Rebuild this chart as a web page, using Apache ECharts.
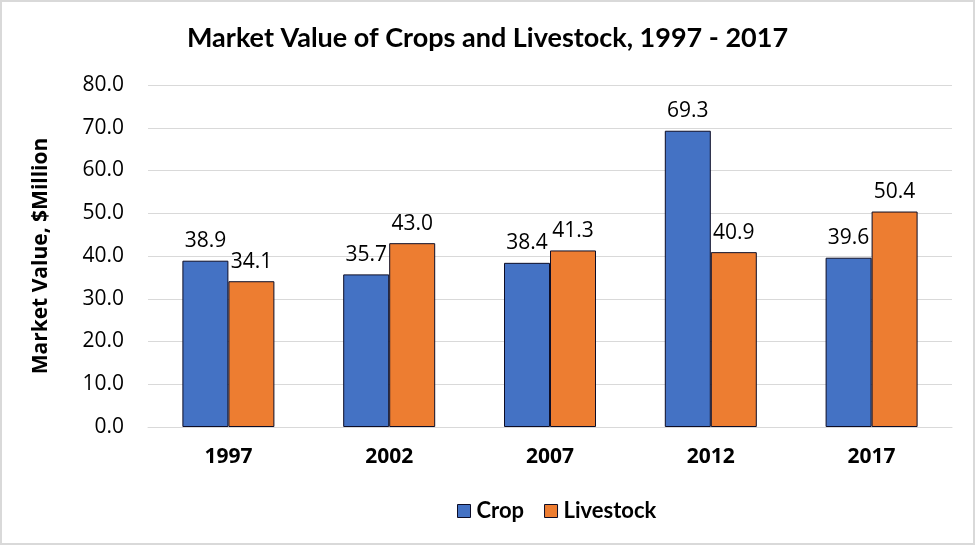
<!DOCTYPE html>
<html>
<head>
<meta charset="utf-8">
<script src="https://cdn.jsdelivr.net/npm/echarts@6/dist/echarts.min.js"></script>
<style>
html,body{margin:0;padding:0;background:#fff;}
#chart{width:975px;height:545px;}
</style>
</head>
<body>
<div id="chart"></div>
<script>
const years = ['1997', '2002', '2007', '2012', '2017'];
const crop = [38.9, 35.7, 38.4, 69.3, 39.6];
const livestock = [34.1, 43.0, 41.3, 40.9, 50.4];
const seriesNames = ['Crop', 'Livestock'];

const TFONT = 'Lato';
const FONT = 'Open Sans';
const chart = echarts.init(document.getElementById('chart'), null, {renderer: 'canvas'});
const labelCfg = {
  show: true, position: 'top', distance: 9,
  color: '#000', fontFamily: FONT, fontSize: 21,
  formatter: p => p.value.toFixed(1)
};
chart.setOption({
  backgroundColor: '#fff',
  animation: false,
  textStyle: {fontFamily: FONT},
  graphic: [{
    type: 'rect', shape: {x: 1, y: 1, width: 973, height: 543},
    style: {fill: 'none', stroke: '#d9d9d9', lineWidth: 2}, silent: true
  }],
  title: {
    text: 'Market Value of Crops and Livestock, 1997 - 2017',
    left: 'center', top: 20,
    textStyle: {fontFamily: TFONT, fontSize: 27, fontWeight: 'bold', color: '#000'}
  },
  legend: {
    data: seriesNames, top: 495, left: 452,
    itemWidth: 13, itemHeight: 13, itemGap: 20,
    textStyle: {fontFamily: TFONT, fontSize: 22, fontWeight: 'bold', color: '#000', padding: [0, 0, 0, 1]},
    icon: 'rect',
    itemStyle: {borderColor: '#0d0d26', borderWidth: 1}
  },
  grid: {left: 148, right: 23, top: 85, bottom: 118},
  xAxis: {
    type: 'category', data: years,
    axisLine: {show: true, lineStyle: {color: '#d9d9d9', width: 1}},
    axisTick: {show: false},
    axisLabel: {fontFamily: FONT, fontSize: 21, fontWeight: 'bold', color: '#000', margin: 20}
  },
  yAxis: {
    type: 'value', min: 0, max: 80, interval: 10,
    name: 'Market Value, $Million', nameLocation: 'middle', nameGap: 96,
    nameTextStyle: {fontFamily: FONT, fontSize: 21, fontWeight: 'bold', color: '#000'},
    axisLine: {show: false}, axisTick: {show: false},
    splitLine: {lineStyle: {color: '#d9d9d9', width: 1}},
    axisLabel: {fontFamily: FONT, fontSize: 21, color: '#000', margin: 24,
      formatter: v => v.toFixed(1)}
  },
  series: [
    {name: seriesNames[0], type: 'bar', data: crop, barWidth: 46, barGap: '0%',
     itemStyle: {color: '#4472C4', borderColor: '#0d0d26', borderWidth: 1}, label: labelCfg},
    {name: seriesNames[1], type: 'bar', data: livestock, barWidth: 46, barGap: '0%',
     itemStyle: {color: '#ED7D31', borderColor: '#0d0d26', borderWidth: 1}, label: labelCfg}
  ]
});
</script>
</body>
</html>
